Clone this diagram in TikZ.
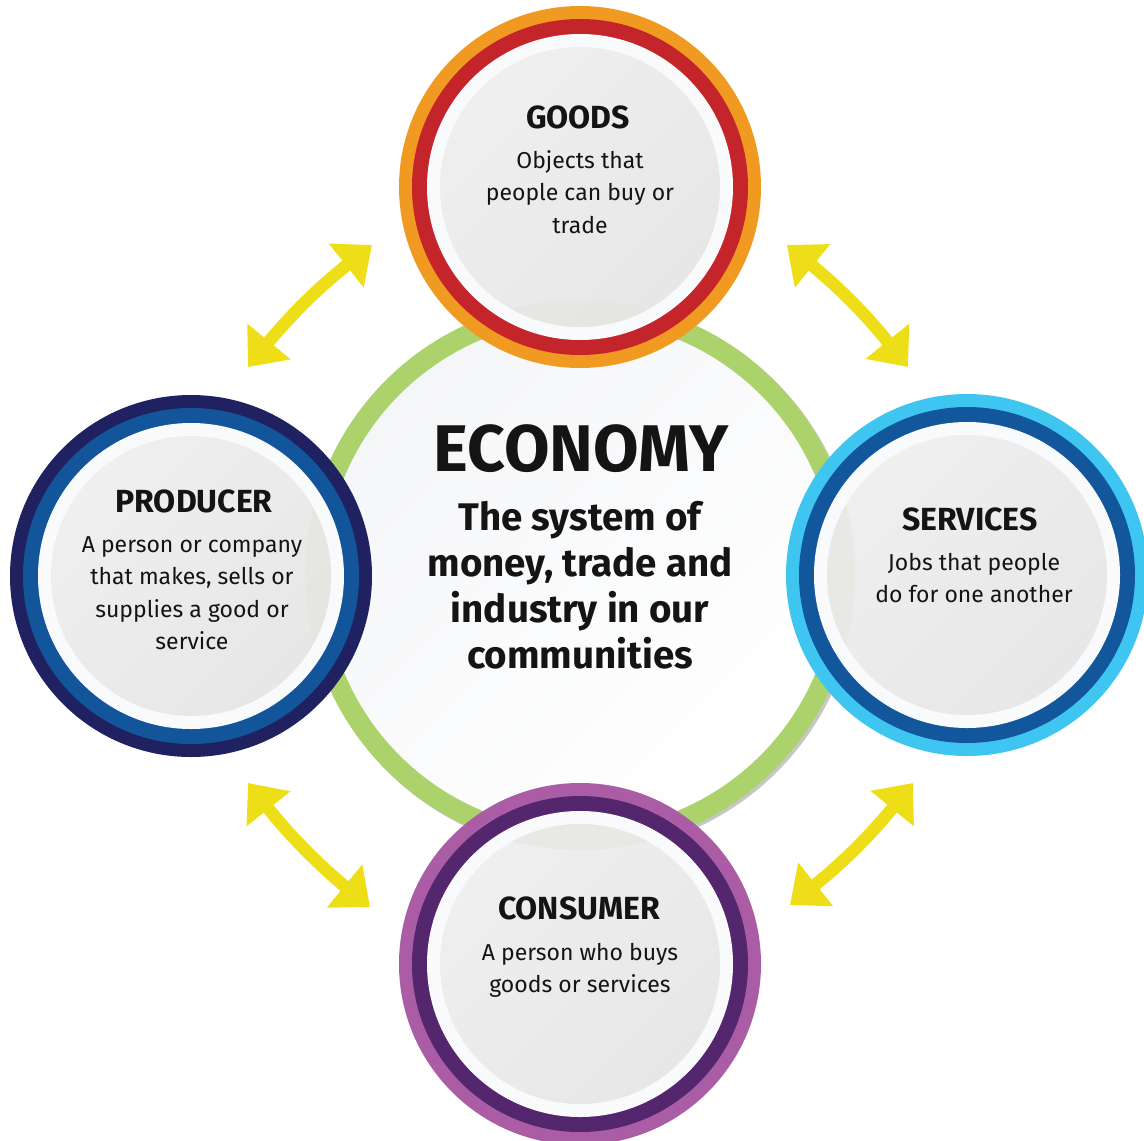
\documentclass[tikz,border=0pt]{standalone}
\usepackage{fontspec}
\setmainfont{Fira Sans}
\usetikzlibrary{arrows.meta}

\definecolor{ink}{HTML}{141414}
\definecolor{ringgreen}{HTML}{ABD26B}
\definecolor{goodsouter}{HTML}{F19A22}
\definecolor{goodsinner}{HTML}{C4252A}
\definecolor{prodouter}{HTML}{1F2161}
\definecolor{prodinner}{HTML}{13559A}
\definecolor{servouter}{HTML}{3FC6F0}
\definecolor{servinner}{HTML}{12569B}
\definecolor{consouter}{HTML}{AA5DA5}
\definecolor{consinner}{HTML}{53266D}
\definecolor{arrowyellow}{HTML}{EEDE17}
\definecolor{ringwhite}{HTML}{F9FAFC}
\definecolor{diskhi}{HTML}{EFEFEF}
\definecolor{disklo}{HTML}{E7E7E7}
\definecolor{diskimprint}{HTML}{E4E5DE}
\definecolor{hubshade}{HTML}{F5F6F8}

% centred lines whose first baseline is the box baseline
\newcommand\stacklines[1]{\begin{tabular}[t]{@{}c@{}}#1\end{tabular}}

% coloured double ring with a grey face, drawn round a named node
\newcommand\topicdisk[3]{%
  \fill[#2] (#1.center) circle (181pt);
  \fill[#3] (#1.center) circle (168pt);
  \fill[ringwhite] (#1.center) circle (153pt);
  \begin{scope}
    \clip (#1.center) circle (140pt);
    \shade[top color=diskhi, bottom color=disklo, shading angle=45] (#1.center) circle (140pt);
    \fill[diskimprint, opacity=0.55] (economy.center) circle (275pt);
  \end{scope}}

\begin{document}
\begin{tikzpicture}[x=1pt,y=-1pt,
  hub/.style={circle, inner sep=0pt, minimum size=550pt},
  topic/.style={circle, inner sep=0pt, minimum size=362pt},
  title/.style={anchor=base, inner sep=0pt, text=ink, font=\fontsize{32}{36}\selectfont\bfseries},
  body/.style={anchor=base, inner sep=0pt, text=ink, font=\fontsize{23}{32.5}\selectfont},
  bigtitle/.style={anchor=base, inner sep=0pt, text=ink, font=\fontsize{66}{72}\selectfont\bfseries},
  bigbody/.style={anchor=base, inner sep=0pt, text=ink, font=\fontsize{38.5}{46.2}\selectfont\bfseries},
  flow/.style={draw=arrowyellow, line width=12.5pt,
    {Triangle[length=33pt,width=54pt]}-{Triangle[length=33pt,width=54pt]}}]

\useasboundingbox (0,0) rectangle (1144,1141);

% central economy ring
\node[hub] (economy) at (580,575) {};
\fill[black!40, opacity=0.55] ([shift={(2.5,2.5)}]economy.center) circle (275pt);
\fill[ringgreen] (economy.center) circle (275pt);
\shade[top color=hubshade, bottom color=white, shading angle=45] (economy.center) circle (255pt);

% four surrounding topics
\node[topic] (goods) at (580,187) {};
\node[topic] (producer) at (191,576) {};
\node[topic] (services) at (967,575) {};
\node[topic] (consumer) at (580,964) {};

\topicdisk{goods}{goodsouter}{goodsinner}
\topicdisk{producer}{prodouter}{prodinner}
\topicdisk{services}{servouter}{servinner}
\topicdisk{consumer}{consouter}{consinner}

% texts
\node[bigtitle] (ecotitle) at (581,471) {ECONOMY};
\node[bigbody] (ecobody) at (580,530) {\stacklines{The system of\\money, trade and\\industry in our\\communities}};

\node[title] (goodstitle) at (578,128) {GOODS};
\node[body] (goodsbody) at (580,168) {\stacklines{Objects that\\people can buy or\\trade}};

\node[title] (prodtitle) at (194,512) {PRODUCER};
\node[body] (prodbody) at (192,552) {\stacklines{A person or company\\that makes, sells or\\supplies a good or\\service}};

\node[title] (servtitle) at (970,530) {SERVICES};
\node[body] (servbody) at (974,570) {\stacklines{Jobs that people\\do for one another}};

\node[title] (constitle) at (579,919) {CONSUMER};
\node[body] (consbody) at (580,960) {\stacklines{A person who buys\\goods or services}};

% yellow exchange arrows
\coordinate (pg1) at (248,367);
\coordinate (pg2) at (372,245);
\coordinate (gs1) at (787,245);
\coordinate (gs2) at (908,367);
\coordinate (pc1) at (248,783);
\coordinate (pc2) at (370,907);
\coordinate (sc1) at (790,905);
\coordinate (sc2) at (913,783);

\draw[flow] (pg1) to[bend left=6] (pg2);
\draw[flow] (gs1) to[bend left=6] (gs2);
\draw[flow] (pc1) to[bend right=6] (pc2);
\draw[flow] (sc1) to[bend right=6] (sc2);

\end{tikzpicture}
\end{document}
